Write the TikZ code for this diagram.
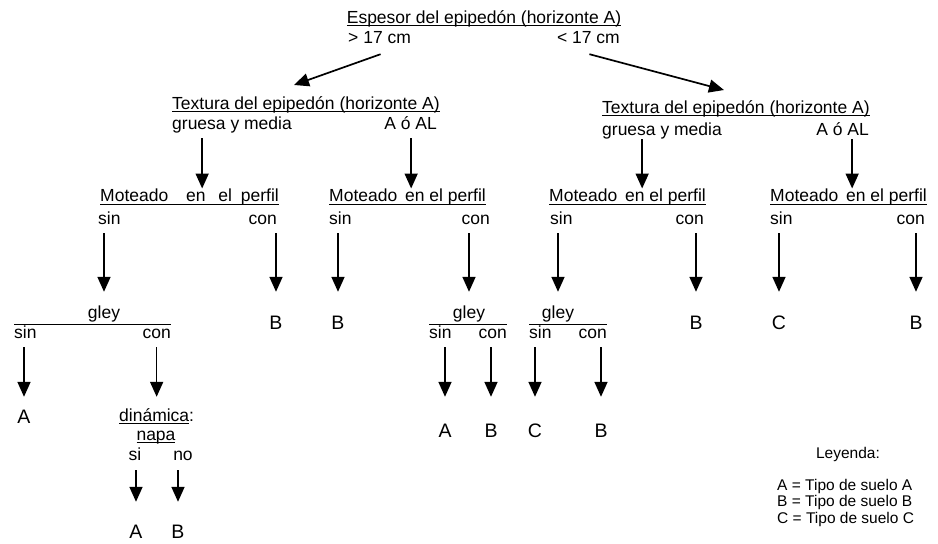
\documentclass[tikz,border=0pt]{standalone}
\usepackage{fontspec}
\setmainfont{Liberation Sans}
\usetikzlibrary{arrows.meta}
\tikzstyle{lbl} = [inner sep=0pt, anchor=base, text height=13pt, text depth=4pt, font=\fontsize{17.5}{20}\selectfont]
\tikzstyle{res} = [lbl, font=\fontsize{19.5}{22}\selectfont]
\tikzstyle{leg} = [lbl, font=\fontsize{15.5}{16.5}\selectfont]
\tikzstyle{legbody} = [inner sep=0pt, anchor=north west, align=left, font=\fontsize{15.5}{16.5}\selectfont]
\tikzstyle{arrow} = [line width=1.7pt, -{Triangle[width=13pt,length=15pt]}, shorten <=5pt]
\tikzstyle{rule} = [line width=1.2pt]
\newcommand{\subr}[1]{\setbox0=\hbox{#1}\rlap{\rule[-2.7pt]{\wd0}{0.9pt}}#1}

\begin{document}
\begin{tikzpicture}[x=1pt, y=-1pt]
        \useasboundingbox (0,0) rectangle (938,544);

        \node (esp) [lbl] at (484,23) {\subr{Espesor del epipedón (horizonte A)}};
        \node (gt17) [lbl, anchor=base west] at (348,43) {> 17 cm};
        \node (lt17) [lbl, anchor=base east] at (620,43) {< 17 cm};

        \node (tex1) [lbl, anchor=base west] at (172,109) {\subr{Textura del epipedón (horizonte A)}};
        \node (gr1) [lbl, anchor=base west] at (172,129) {gruesa y media};
        \node (ao1) [lbl, anchor=base east] at (437,129) {A ó AL};
        \node (tex2) [lbl, anchor=base west] at (602,113.3) {\subr{Textura del epipedón (horizonte A)}};
        \node (gr2) [lbl, anchor=base west] at (602,135) {gruesa y media};
        \node (ao2) [lbl, anchor=base east] at (869,135) {A ó AL};

        \node (mot1) [lbl, anchor=base west] at (100,201.7) {\subr{Moteado\hspace{13pt} en\hspace{8pt} el\hspace{4pt} perfil}};
        \node (mot2) [lbl, anchor=base west] at (329,201.7) {\subr{Moteado\hspace{3pt} en el perfil}};
        \node (mot3) [lbl, anchor=base west] at (549,201.7) {\subr{Moteado\hspace{3pt} en el perfil}};
        \node (mot4) [lbl, anchor=base west] at (770,201.7) {\subr{Moteado\hspace{3pt} en el perfil}};

        \node (s1) [lbl, anchor=base west] at (98,224) {sin};
        \node (c1) [lbl, anchor=base east] at (277,224) {con};
        \node (s2) [lbl, anchor=base west] at (329,224) {sin};
        \node (c2) [lbl, anchor=base east] at (490,224) {con};
        \node (s3) [lbl, anchor=base west] at (550,224) {sin};
        \node (c3) [lbl, anchor=base east] at (704,224) {con};
        \node (s4) [lbl, anchor=base west] at (770,224) {sin};
        \node (c4) [lbl, anchor=base east] at (925,224) {con};

        \node (gl1) [lbl] at (104,318) {gley};
        \node (b1) [res] at (276,329) {B};
        \node (b2) [res] at (338,329) {B};
        \node (gl2) [lbl] at (469,318) {gley};
        \node (gl3) [lbl] at (558,318) {gley};
        \node (b3) [res] at (696,329) {B};
        \node (c5) [res] at (779,329) {C};
        \node (b4) [res] at (916,329) {B};

        \node (s5) [lbl, anchor=base west] at (14,338) {sin};
        \node (k5) [lbl, anchor=base east] at (171,338) {con};
        \node (s6) [lbl, anchor=base west] at (429,338) {sin};
        \node (k6) [lbl, anchor=base east] at (507,338) {con};
        \node (s7) [lbl, anchor=base west] at (529,338) {sin};
        \node (k7) [lbl, anchor=base east] at (607,338) {con};

        \node (a1) [res] at (24,423) {A};
        \node (dyn) [lbl, anchor=base west] at (119,421.5) {\subr{dinámica}:};
        \node (napa) [lbl, text height=10pt] at (156,440) {\subr{napa}};
        \node (si) [lbl] at (135,460) {si};
        \node (no) [lbl] at (183,460) {no};
        \node (a2) [res] at (136,538) {A};
        \node (b5) [res] at (178,538) {B};

        \node (a3) [res] at (445,437) {A};
        \node (b6) [res] at (491,437) {B};
        \node (c6) [res] at (535,437) {C};
        \node (b7) [res] at (601,437) {B};

        \node (leyenda) [leg] at (848,458) {Leyenda:};
        \node (claves) [legbody] at (777,479) {A = Tipo de suelo A\\B = Tipo de suelo B\\C = Tipo de suelo C};

        \draw [rule] (s5.north west) -- (k5.north east);
        \draw [rule] (s6.north west) -- (k6.north east);
        \draw [rule] (s7.north west) -- (k7.north east);

        \draw [arrow, shorten <=0pt] ([shift={(1,7)}]gt17.south) -- ([shift={(-12,-24)}]tex1.base);
        \draw [arrow, shorten <=0pt] ([shift={(1,7)}]lt17.south) -- ([shift={(-12,-23.3)}]tex2.base);

        \draw [arrow] ([xshift=12.6pt]mot1.north |- gr1.south) -- ([xshift=12.6pt]mot1.north);
        \draw [arrow] ([xshift=3.6pt]mot2.north |- ao1.south) -- ([xshift=3.6pt]mot2.north);
        \draw [arrow, shorten <=0pt] ([xshift=14.6pt]mot3.north |- gr2.south) -- ([xshift=14.6pt]mot3.north);
        \draw [arrow, shorten <=0pt] ([xshift=3.6pt]mot4.north |- ao2.south) -- ([xshift=3.6pt]mot4.north);

        \draw [arrow, shorten >=13pt] (gl1.north |- s1.south) -- (gl1.north);
        \draw [arrow, shorten >=24pt] (b1.north |- c1.south) -- (b1.north);
        \draw [arrow, shorten >=24pt] (b2.north |- s2.south) -- (b2.north);
        \draw [arrow, shorten >=13pt] (gl2.north |- c2.south) -- (gl2.north);
        \draw [arrow, shorten >=13pt] (gl3.north |- s3.south) -- (gl3.north);
        \draw [arrow, shorten >=24pt] (b3.north |- c3.south) -- (b3.north);
        \draw [arrow, shorten >=24pt] (c5.north |- s4.south) -- (c5.north);
        \draw [arrow, shorten >=24pt] (b4.north |- c4.south) -- (b4.north);

        \draw [arrow, shorten >=13pt] (a1.north |- s5.south) -- (a1.north);
        \draw [arrow, shorten >=11.5pt] (dyn.north |- k5.south) -- (dyn.north);
        \draw [arrow, shorten <=6pt, shorten >=23pt] (a2.north |- si.south) -- (a2.north);
        \draw [arrow, shorten <=6pt, shorten >=23pt] (b5.north |- no.south) -- (b5.north);

        \draw [arrow, shorten >=27pt] (a3.north |- s6.south) -- (a3.north);
        \draw [arrow, shorten >=27pt] (b6.north |- k6.south) -- (b6.north);
        \draw [arrow, shorten >=27pt] (c6.north |- s7.south) -- (c6.north);
        \draw [arrow, shorten >=27pt] (b7.north |- k7.south) -- (b7.north);
    \end{tikzpicture}
\end{document}
